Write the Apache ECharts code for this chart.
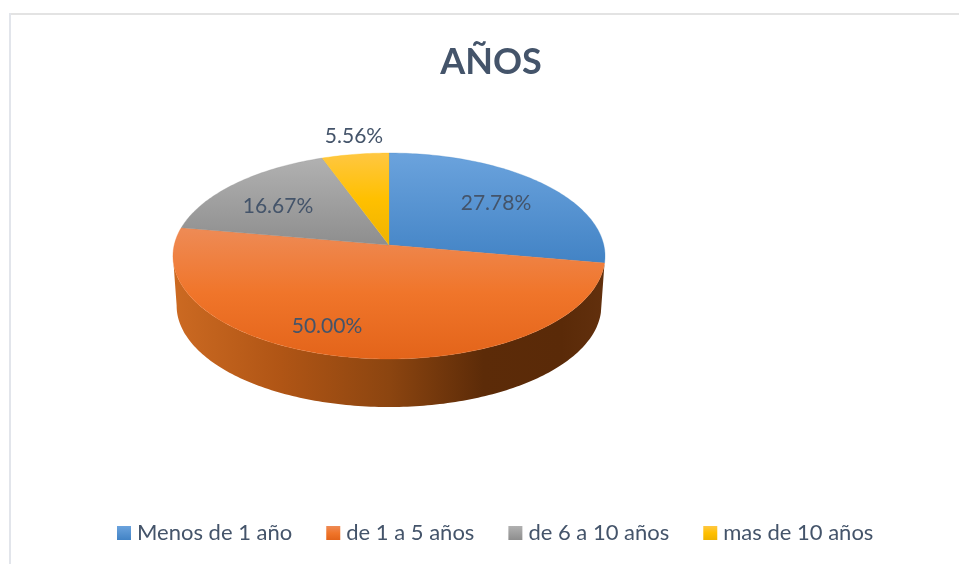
<!DOCTYPE html>
<html>
<head>
<meta charset="utf-8">
<style>html,body{margin:0;padding:0;background:#fff}#c{width:959px;height:564px}</style>
<script src="https://cdn.jsdelivr.net/npm/echarts@6/dist/echarts.min.js"></script>
</head>
<body>
<div id="c"></div>
<script>
const titleText = 'AÑOS';
const categories = ['Menos de 1 año', 'de 1 a 5 años', 'de 6 a 10 años', 'mas de 10 años'];
const values = [27.78, 50.00, 16.67, 5.56];

// Layout and styling (not data)
const INK = '#44546A';
const FONT = 'Lato, "Open Sans", sans-serif';
const APEX = {x: 389, y: 245};
const RX = 214.8, RY = 101.8, PERSP = 0.1068;
const DEPTH = 50, RIM_SCALE = 0.983;
const labelOffsets = [[107, -42], [-62, 81], [-111, -39], [-35, -109]];
const topStops = [
  ['#6BA3DD', '#4283C5'],
  ['#EE8B56', '#F0752A', '#E3641A'],
  ['#B1B1B1', '#8E8E8E'],
  ['#FFC742', '#FFC000', '#EFB300']
];
const sideStops = [
  [0, '#CC6A22'], [0.25, '#B05515'], [0.5, '#8C4510'],
  [0.72, '#5C2B08'], [0.9, '#5A2A08'], [1, '#62300D']
];

const grad = (x2, y2, cols) => new echarts.graphic.LinearGradient(0, 0, x2, y2,
  cols.map((c, i) => Array.isArray(c) ? {offset: c[0], color: c[1]} : {offset: i / (cols.length - 1), color: c}));

const project = (deg, scale, dy) => {
  const t = deg * Math.PI / 180, u = Math.sin(t), v = -Math.cos(t), w = 1 - PERSP * v;
  return [APEX.x + scale * RX * u / w, APEX.y + dy + scale * RY * v / w];
};
const arc = (a, b, scale, dy) => {
  const pts = [], n = Math.max(2, Math.ceil(Math.abs(b - a)));
  for (let i = 0; i <= n; i++) pts.push(project(a + (b - a) * i / n, scale, dy));
  return pts;
};
const total = values.reduce((s, v) => s + v, 0);
const startOf = i => values.slice(0, i).reduce((s, v) => s + v, 0) / total * 360;

// angle of the leftmost point of the top rim: where the visible wall ends
let leftmostDeg = 180;
for (let d = 180; d <= 360; d += 0.5) if (project(d, 1, 0)[0] < project(leftmostDeg, 1, 0)[0]) leftmostDeg = d;

function renderSlice(params, api) {
  const i = params.seriesIndex, v = api.value(0);
  const a = startOf(i), b = a + v / total * 360;
  const children = [];
  if (a < 180 && b > 180) {
    const end = Math.min(b, leftmostDeg);
    const upper = arc(a, end, 1, 0);
    const lower = arc(end, a, RIM_SCALE, DEPTH);
    children.push({type: 'polygon', shape: {points: upper.concat(lower)},
      style: {fill: grad(1, 0, sideStops)}});
  }
  const fill = grad(0, 1, topStops[i]);
  children.push({type: 'polygon', z2: 2, shape: {points: [[APEX.x, APEX.y]].concat(arc(a, b, 1, 0))},
    style: {fill, stroke: topStops[i][1], lineWidth: 0.3}});
  children.push({type: 'text', z2: 5, style: {
    x: APEX.x + labelOffsets[i][0], y: APEX.y + labelOffsets[i][1],
    text: v.toFixed(2) + '%', fill: INK, font: '21px ' + FONT, align: 'center', verticalAlign: 'middle'}});
  return {type: 'group', children};
}

const chart = echarts.init(document.getElementById('c'), null, {renderer: 'canvas'});
chart.setOption({
  animation: false,
  backgroundColor: '#fff',
  title: {text: titleText, left: 486, top: 39, textAlign: 'center',
    textStyle: {color: INK, fontFamily: FONT, fontWeight: 'bold', fontSize: 36}},
  legend: {
    left: 112, top: 517, itemWidth: 14, itemHeight: 14, itemGap: 34, icon: 'rect',
    selectedMode: false, data: categories,
    textStyle: {color: INK, fontFamily: FONT, fontSize: 22, padding: [0, 0, 0, 1]}
  },
  graphic: [
    {type: 'rect', silent: true, shape: {x: 9, y: 13, width: 950, height: 2}, style: {fill: '#E3E3E3'}},
    {type: 'rect', silent: true, shape: {x: 9, y: 13, width: 2, height: 551}, style: {fill: '#E2E5EB'}}
  ],
  series: categories.map((name, i) => ({
    type: 'custom', name, coordinateSystem: 'none', silent: true,
    itemStyle: {color: grad(0, 1, topStops[i])},
    data: [[values[i]]],
    encode: {value: 0},
    renderItem: renderSlice
  }))
});
</script>
</body>
</html>
